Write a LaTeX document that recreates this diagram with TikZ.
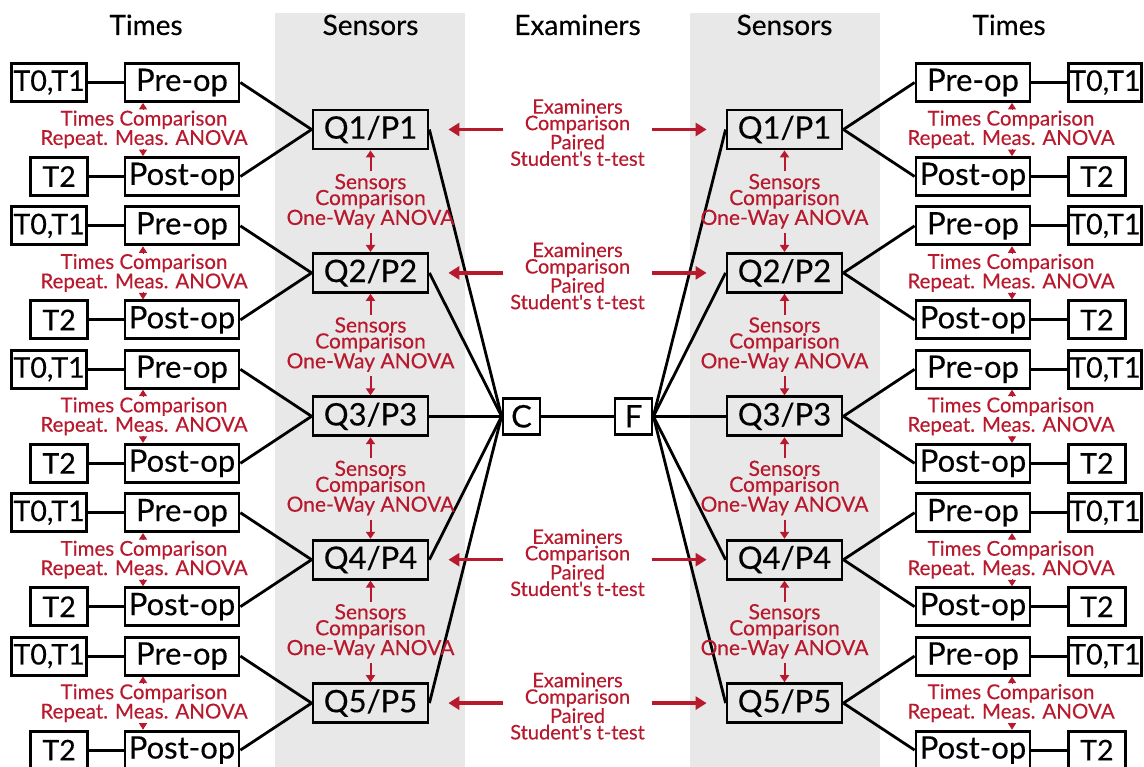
\documentclass[tikz,border=0pt]{standalone}
\usepackage{fontspec}
\setmainfont{Lato}
\newfontfamily\hv{Lato}[FakeBold=0.35]
\usetikzlibrary{arrows.meta}
\definecolor{band}{RGB}{232,232,232}
\definecolor{myred}{RGB}{185,25,45}
\begin{document}
\begin{tikzpicture}[x=1pt,y=-1pt,
 box/.style={draw=black, line width=2.8pt, inner sep=0pt, minimum height=38pt, font=\hv\fontsize{31}{31}\selectfont, fill=white},
 qbox/.style={box, fill=band, minimum width=115pt, minimum height=39pt},
 pbox/.style={box, minimum width=114pt},
 cbox/.style={box, minimum width=37pt, minimum height=36pt},
 tbox/.style={box, font=\hv\fontsize{28.5}{28.5}\selectfont},
 hdr/.style={font=\hv\fontsize{28}{28}\selectfont, anchor=base, inner sep=0pt},
 conn/.style={line width=2.8pt},
 rlab/.style={text=myred, font=\hv\fontsize{20}{16.5}\selectfont, align=center, inner sep=0pt},
 slab/.style={text=myred, font=\hv\fontsize{21}{16}\selectfont, align=center, inner sep=0pt},
 tlab/.style={text=myred, font=\hv\fontsize{20.5}{14}\selectfont, align=center, inner sep=0pt},
 sarr/.style={draw=myred, line width=2pt, -{Triangle[length=7pt,width=9pt]}},
 earr/.style={draw=myred, line width=3.5pt, -{Triangle[length=11pt,width=13pt]}},
 tarr/.style={draw=myred, line width=1pt, -{Triangle[length=6.5pt,width=8pt]}},
]
\useasboundingbox (0,0) rectangle (1144,767);
\fill[band] (275,13) rectangle (465,767);
\fill[band] (690,13) rectangle (880,767);

\node[hdr] (h1) at (146,35) {Times};
\node[hdr] (h2) at (370.5,35) {Sensors};
\node[hdr] (h3) at (577.5,35) {Examiners};
\node[hdr] (h4) at (784.5,35) {Sensors};
\node[hdr] (h5) at (1009,35) {Times};

\node[cbox] (C) at (521.5,416.3) {C};
\node[cbox] (F) at (633.5,416.3) {F};
\draw[conn] (C.east) -- (F.west);

\foreach \i/\qy in {1/129.5, 2/272.9, 3/416.3, 4/559.7, 5/703.1} {
  % left side
  \node[qbox] (Lq\i) at (370.5,\qy) {Q\i/P\i};
  \node[pbox] (Lpre\i) at (182,\qy-47) {Pre-op};
  \node[pbox] (Lpost\i) at (182,\qy+47) {Post-op};
  \node[tbox, minimum width=75pt, anchor=east] (Lt01\i) at (88,\qy-47) {T0,T1};
  \node[tbox, minimum width=57pt, anchor=east] (Lt2\i) at (89,\qy+47) {T2};
  \draw[conn] (Lt01\i.east) -- (Lpre\i.west);
  \draw[conn] (Lt2\i.east) -- (Lpost\i.west);
  \draw[conn] (Lpre\i.east) -- (Lq\i.west);
  \draw[conn] (Lpost\i.east) -- (Lq\i.west);
  \draw[conn] (Lq\i.east) -- (C.west);
  \node[tlab] (Ltl\i) at (144,\qy) {Times Comparison\\Repeat. Meas. ANOVA};
  \draw[tarr] ([xshift=-39pt,yshift=-7pt]Lpre\i.south) -- ([xshift=-39pt]Lpre\i.south);
  \draw[tarr] ([xshift=-39pt,yshift=7pt]Lpost\i.north) -- ([xshift=-39pt]Lpost\i.north);
  % right side
  \node[qbox] (Rq\i) at (784.5,\qy) {Q\i/P\i};
  \node[pbox] (Rpre\i) at (973,\qy-47) {Pre-op};
  \node[pbox] (Rpost\i) at (973,\qy+47) {Post-op};
  \node[tbox, minimum width=73pt, anchor=west] (Rt01\i) at (1067,\qy-47) {T0,T1};
  \node[tbox, minimum width=57pt, anchor=west] (Rt2\i) at (1067,\qy+47) {T2};
  \draw[conn] (Rpre\i.east) -- (Rt01\i.west);
  \draw[conn] (Rpost\i.east) -- (Rt2\i.west);
  \draw[conn] (Rq\i.east) -- (Rpre\i.west);
  \draw[conn] (Rq\i.east) -- (Rpost\i.west);
  \draw[conn] (F.east) -- (Rq\i.west);
  \node[tlab] (Rtl\i) at (1011,\qy) {Times Comparison\\Repeat. Meas. ANOVA};
  \draw[tarr] ([xshift=39pt,yshift=-7pt]Rpre\i.south) -- ([xshift=39pt]Rpre\i.south);
  \draw[tarr] ([xshift=39pt,yshift=7pt]Rpost\i.north) -- ([xshift=39pt]Rpost\i.north);
}

% sensors comparisons
\foreach \i/\qy in {1/129.5, 2/272.9, 3/416.3, 4/559.7} {
  \pgfmathtruncatemacro\j{\i+1}
  \node[slab] (Ls\i) at (370.5,\qy+71.7) {Sensors\\Comparison\\One-Way ANOVA};
  \draw[sarr] ([yshift=-21pt]Lq\i.south) -- (Lq\i.south);
  \draw[sarr] ([yshift=19pt]Lq\j.north) -- (Lq\j.north);
  \node[slab] (Rs\i) at (784.5,\qy+71.7) {Sensors\\Comparison\\One-Way ANOVA};
  \draw[sarr] ([yshift=-21pt]Rq\i.south) -- (Rq\i.south);
  \draw[sarr] ([yshift=19pt]Rq\j.north) -- (Rq\j.north);
}

% examiners comparisons
\foreach \i/\qy in {1/129.5, 2/272.9, 4/559.7, 5/703.1} {
  \node[rlab] (Ex\i) at (577.5,\qy+3) {Examiners\\Comparison\\Paired\\Student's t-test};
  \draw[earr] ([xshift=74pt]Lq\i.east) -- ([xshift=19pt]Lq\i.east);
  \draw[earr] ([xshift=-74pt]Rq\i.west) -- ([xshift=-19pt]Rq\i.west);
}
\end{tikzpicture}
\end{document}
